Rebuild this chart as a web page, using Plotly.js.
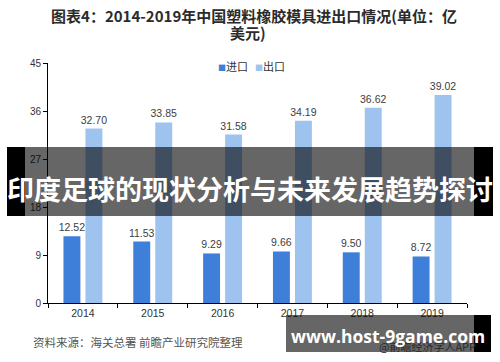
<!DOCTYPE html>
<html>
<head>
<meta charset="utf-8">
<script src="https://cdn.plot.ly/plotly-3.0.1.min.js"></script>
<style>html,body{margin:0;padding:0;background:#fff;}#chart{width:500px;height:362px;}</style>
</head>
<body>
<div id="chart"></div>
<script>
var years = ['2014', '2015', '2016', '2017', '2018', '2019'];
var importValues = [12.52, 11.53, 9.29, 9.66, 9.50, 8.72];
var exportValues = [32.70, 33.85, 31.58, 34.19, 36.62, 39.02];
var yTicks = [0, 9, 18, 27, 36, 45];
var seriesNames = ['进口', '出口'];

var titleLine1 = '图表4：2014-2019年中国塑料橡胶模具进出口情况(单位：亿';
var titleLine2 = '美元)';
var sourceText = '资料来源：海关总署 前瞻产业研究院整理';
var bannerText = '印度足球的现状分析与未来发展趋势探讨';
var siteText = 'www.host-9game.com';
var appText = '@前瞻经济学人APP';

var importColor = '#3d7fd9';
var exportColor = '#9ec3ef';
var labelFont = {family: 'Liberation Sans, Arial, sans-serif', size: 10.5, color: '#404040'};
var cjk = 'Noto Sans CJK SC, sans-serif';

// plot area in pixels
var L = 48, R = 467, T = 63, B = 303;
function px(x) { return (x - L) / (R - L); }
function py(y) { return (B - y) / (B - T); }

var traces = [
  {type: 'bar', name: seriesNames[0], x: years, y: importValues,
   marker: {color: importColor}, texttemplate: '%{y:.2f}', textposition: 'outside',
   constraintext: 'none', textfont: labelFont, cliponaxis: false, hoverinfo: 'skip'},
  {type: 'bar', name: seriesNames[1], x: years, y: exportValues,
   marker: {color: exportColor}, texttemplate: '%{y:.2f}', textposition: 'outside',
   constraintext: 'none', textfont: labelFont, cliponaxis: false, hoverinfo: 'skip'}
];

var shapes = [
  {type: 'rect', xref: 'paper', yref: 'paper', x0: px(7), x1: px(25), y0: py(216), y1: py(147),
   fillcolor: '#000', line: {width: 0}, layer: 'above'},
  {type: 'rect', xref: 'paper', yref: 'paper', x0: px(474), x1: px(493), y0: py(216), y1: py(147),
   fillcolor: '#000', line: {width: 0}, layer: 'above'},
  {type: 'rect', xref: 'paper', yref: 'paper', x0: px(25), x1: px(474), y0: py(216), y1: py(147),
   fillcolor: 'rgba(0,0,0,0.6)', line: {width: 0}, layer: 'above'},
  {type: 'rect', xref: 'paper', yref: 'paper', x0: px(286), x1: px(474), y0: py(352), y1: py(315),
   fillcolor: 'rgba(0,0,0,0.6)', line: {width: 0}, layer: 'above'},
  {type: 'rect', xref: 'paper', yref: 'paper', x0: px(474), x1: px(491), y0: py(352), y1: py(315),
   fillcolor: '#000', line: {width: 0}, layer: 'above'}
];

var annotations = [
  {xref: 'paper', yref: 'paper', x: px(248), y: py(32), text: titleLine2, showarrow: false,
   xanchor: 'center', yanchor: 'middle',
   font: {family: cjk, size: 15, color: '#2b2b2b', weight: 'bold'}},
  {xref: 'paper', yref: 'paper', x: px(216), y: py(66), showarrow: false, xanchor: 'left', yanchor: 'middle',
   text: '<span style="color:' + importColor + ';font-size:8px">■</span>' + seriesNames[0],
   font: {family: cjk, size: 11, color: '#333'}},
  {xref: 'paper', yref: 'paper', x: px(253), y: py(66), showarrow: false, xanchor: 'left', yanchor: 'middle',
   text: '<span style="color:' + exportColor + ';font-size:8px">■</span>' + seriesNames[1],
   font: {family: cjk, size: 11, color: '#333'}},
  {xref: 'paper', yref: 'paper', x: px(31), y: py(342), text: sourceText, showarrow: false,
   xanchor: 'left', yanchor: 'middle', font: {family: cjk, size: 11.5, color: '#555'}},
  {xref: 'paper', yref: 'paper', x: px(478), y: py(346), text: appText, showarrow: false,
   xanchor: 'right', yanchor: 'middle', font: {family: cjk, size: 11, color: '#2a2a2a'}},
  {xref: 'paper', yref: 'paper', x: px(250), y: py(188), text: bannerText, showarrow: false,
   xanchor: 'center', yanchor: 'middle',
   font: {family: cjk, size: 27, color: '#fff', weight: 'bold'}},
  {xref: 'paper', yref: 'paper', x: px(388), y: py(336), text: siteText, showarrow: false,
   xanchor: 'center', yanchor: 'middle',
   font: {family: 'Open Sans, sans-serif', size: 17.5, color: '#fff', weight: 'bold'}}
];

var layout = {
  width: 500, height: 362,
  margin: {l: L, r: 500 - R, t: T, b: 362 - B, pad: 0},
  paper_bgcolor: '#fff', plot_bgcolor: '#fff',
  showlegend: false,
  title: {text: titleLine1, x: 254 / 500, xanchor: 'center', xref: 'container',
          y: 1 - 17 / 362, yanchor: 'middle', yref: 'container',
          font: {family: cjk, size: 15, color: '#2b2b2b', weight: 'bold'}},
  barmode: 'group', bargap: 0.37, bargroupgap: 0.23,
  xaxis: {type: 'category', showline: true, linecolor: '#000', linewidth: 1,
          ticks: 'outside', ticklen: 4, tickcolor: '#000', tickson: 'boundaries',
          showgrid: false, zeroline: false,
          tickfont: {family: 'Liberation Sans, Arial, sans-serif', size: 10.5, color: '#333'}},
  yaxis: {range: [0, 45], tickvals: yTicks, showline: true, linecolor: '#000', linewidth: 1,
          ticks: 'outside', ticklen: 4, tickcolor: '#000', showgrid: false, zeroline: false,
          tickfont: {family: 'Liberation Sans, Arial, sans-serif', size: 10, color: '#333'}},
  shapes: shapes,
  annotations: annotations
};

Plotly.newPlot('chart', traces, layout, {staticPlot: true, displayModeBar: false});
</script>
</body>
</html>
